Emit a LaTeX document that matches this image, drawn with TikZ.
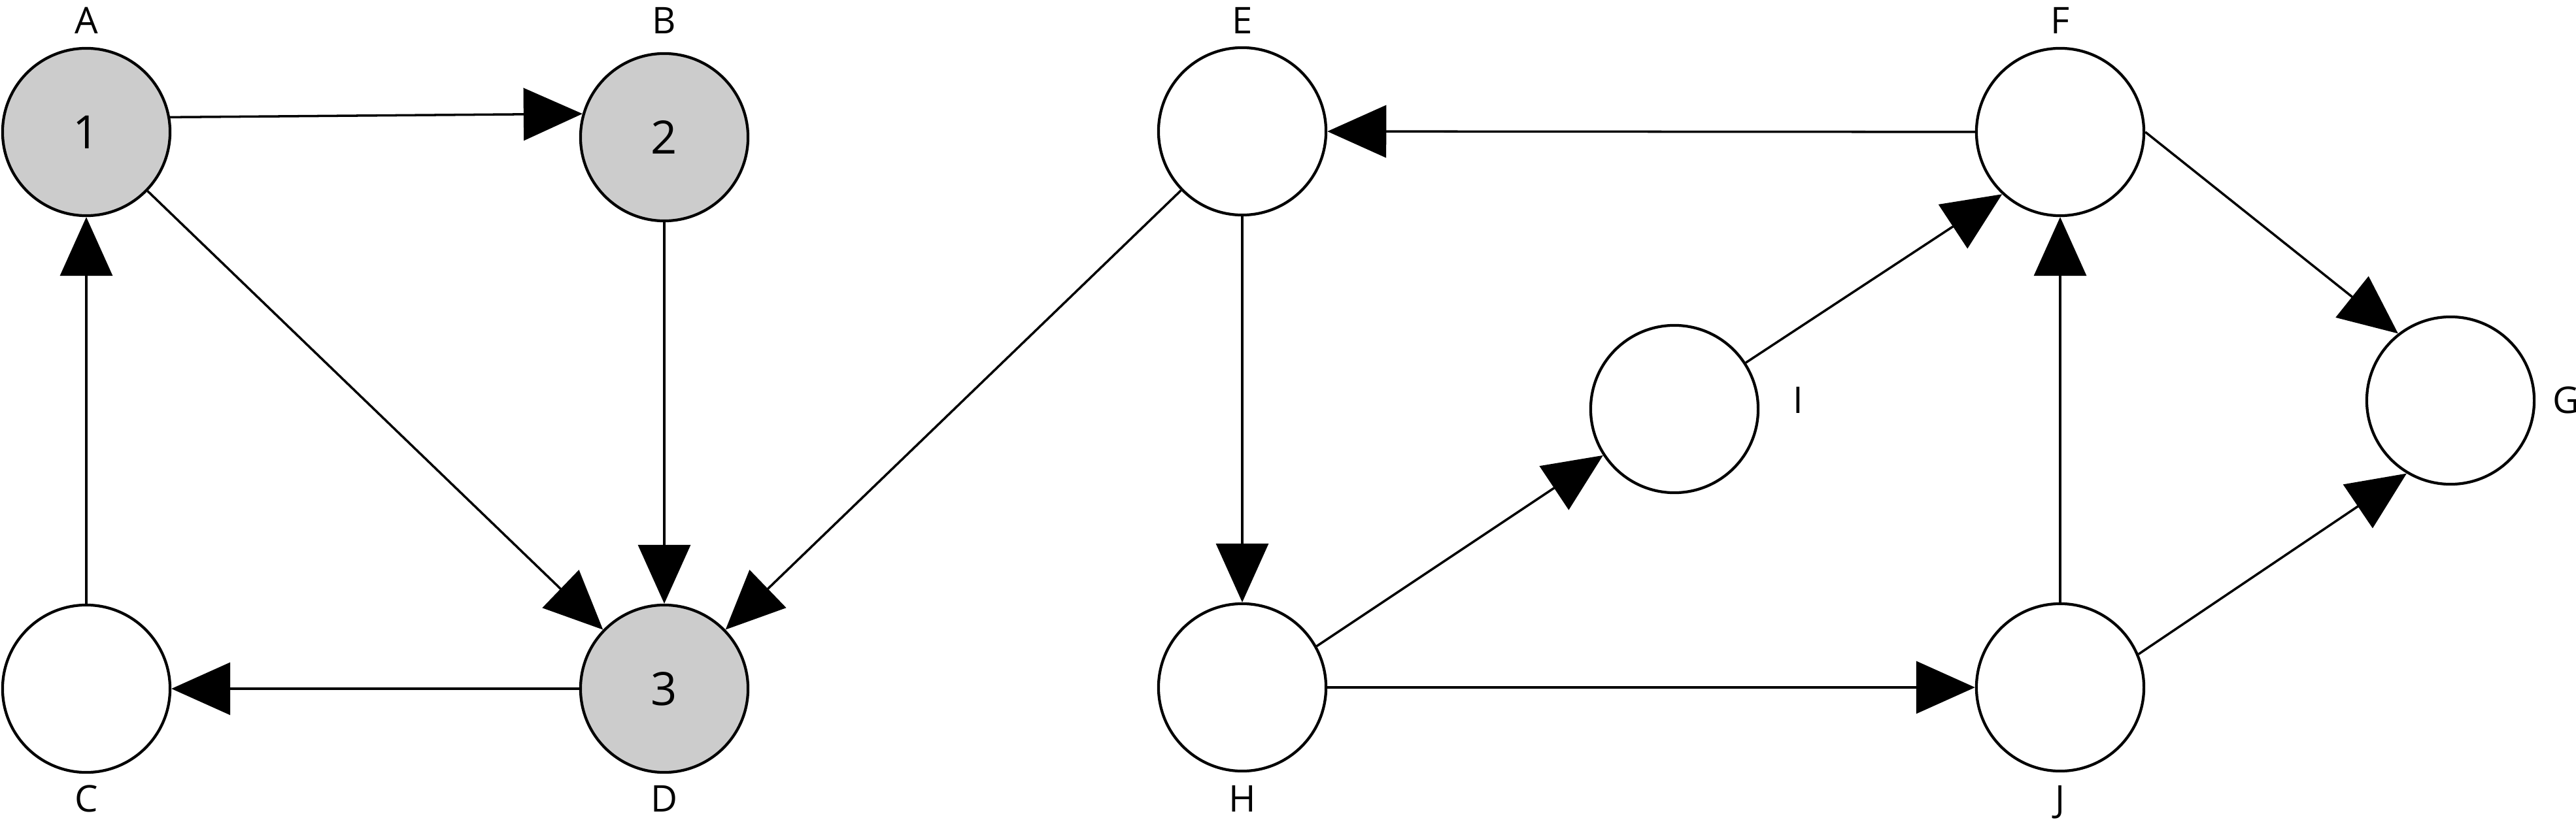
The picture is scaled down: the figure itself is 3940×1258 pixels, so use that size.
\documentclass[tikz,border=0pt]{standalone}
\usepackage{fontspec}
\setmainfont{Open Sans}
\usetikzlibrary{arrows.meta}
\definecolor{nodegray}{RGB}{204,204,204}
\begin{document}
\begin{tikzpicture}[x=0.01cm,y=-0.01cm,
  vtx/.style={circle,draw=black,line width=1.2pt,minimum size=2.56cm,inner sep=0pt,fill=white,font=\fontsize{20}{24}\selectfont},
  hl/.style={vtx,fill=nodegray},
  lbl/.style={font=\fontsize{16}{19}\selectfont,inner sep=0pt,anchor=base},
  edge/.style={line width=1pt,-{Triangle[length=0.9cm,width=0.8cm]}}]
\useasboundingbox (0,0) rectangle (3940,1258);
% vertices
\node[hl]  (A) at (132,202)   {1};
\node[hl]  (B) at (1016,210)  {2};
\node[vtx] (C) at (132,1054)  {};
\node[hl]  (D) at (1016,1054) {3};
\node[vtx] (E) at (1900,201)  {};
\node[vtx] (F) at (3151,202)  {};
\node[vtx] (G) at (3748,613)  {};
\node[vtx] (H) at (1900,1052) {};
\node[vtx] (I) at (2561,626)  {};
\node[vtx] (J) at (3151,1052) {};
% labels
\node[lbl] (lA) at (132,52)    {A};
\node[lbl] (lB) at (1016,52)   {B};
\node[lbl] (lC) at (132,1242)  {C};
\node[lbl] (lD) at (1016,1242) {D};
\node[lbl] (lE) at (1900,52)   {E};
\node[lbl] (lF) at (3151,52)   {F};
\node[lbl] (lG) at (3925,632)  {G};
\node[lbl] (lH) at (1900,1242) {H};
\node[lbl] (lI) at (2750,632)  {I};
\node[lbl] (lJ) at (3151,1242) {J};
% edges
\draw[edge] (A.10) -- (B.164);
\draw[edge] (A) -- (D);
\draw[edge] (B) -- (D);
\draw[edge] (C) -- (A);
\draw[edge] (D) -- (C);
\draw[edge] (E) -- (D);
\draw[edge] (E) -- (H);
\draw[edge] (F) -- (E);
\draw[edge] (F.east) -- (G.128);
\draw[edge] (H.29.5) -- (I.213.5);
\draw[edge] (H) -- (J);
\draw[edge] (I.33) -- (F.227);
\draw[edge] (J) -- (F);
\draw[edge] (J.23.4) -- (G.239);
\end{tikzpicture}
\end{document}
